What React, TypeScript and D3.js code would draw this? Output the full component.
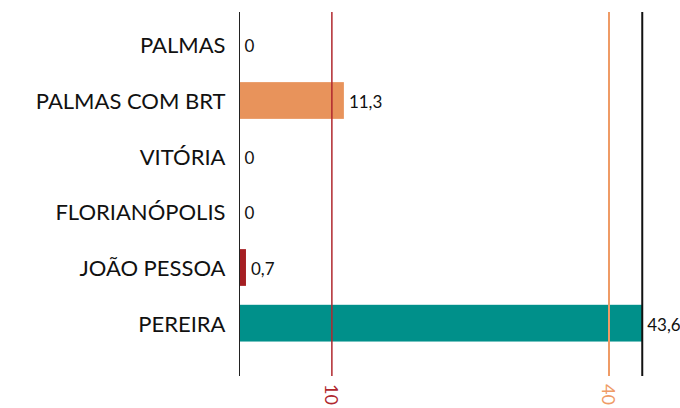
import React from "react";
import * as d3 from "d3";

const categories = ["PALMAS", "PALMAS COM BRT", "VITÓRIA", "FLORIANÓPOLIS", "JOÃO PESSOA", "PEREIRA"];
const values = [0, 11.3, 0, 0, 0.7, 43.6];
const barColors = ["#e8935b", "#e8935b", "#e8935b", "#e8935b", "#a51e22", "#00908a"];
const refValues = [10, 40];
const refColors = ["#b0272e", "#ef9b66"];
const refLabels = ["10", "40"];

const W = 680;
const H = 408;
const FONT = "Lato, 'Open Sans', sans-serif";

export default function App() {
  const x = d3.scaleLinear().domain([0, 40]).range([239.5, 609]);
  const y = d3
    .scaleBand<string>()
    .domain(categories)
    .range([17, 351])
    .paddingInner(0.34)
    .paddingOuter(0.17);
  const top = 12;
  const bottom = 376;
  const maxV = d3.max(values) as number;
  const fmt = (v: number) => String(v).replace(".", ",");

  return (
    <svg
      width={W}
      height={H}
      style={{ position: "absolute", left: 0, top: 0, background: "#fff" }}
      fontFamily={FONT}
    >
      {categories.map((c, i) => {
        const yc = (y(c) as number) + y.bandwidth() / 2;
        return (
          <g key={c}>
            <text
              x={x(0) - 14}
              y={yc}
              textAnchor="end"
              dominantBaseline="central"
              fontSize={22}
              fill="#111"
            >
              {c}
            </text>
            {values[i] > 0 && (
              <rect
                x={x(0)}
                y={y(c)}
                width={x(values[i]) - x(0)}
                height={y.bandwidth()}
                fill={barColors[i]}
              />
            )}
            <text
              x={x(values[i]) + 5}
              y={yc + 1}
              dominantBaseline="central"
              fontSize={17}
              fill="#111"
            >
              {fmt(values[i])}
            </text>
          </g>
        );
      })}
      {refValues.map((v, i) => (
        <g key={v}>
          <line x1={x(v)} x2={x(v)} y1={top} y2={bottom} stroke={refColors[i]} strokeWidth={i === 0 ? 1.5 : 2} />
          <text
            transform={`translate(${x(v)},${bottom + 8}) rotate(90)`}
            dominantBaseline="central"
            fontSize={18}
            fill={refColors[i]}
          >
            {refLabels[i]}
          </text>
        </g>
      ))}
      <line x1={x(0)} x2={x(0)} y1={top} y2={bottom} stroke="#222" strokeWidth={1} />
      <line x1={x(maxV)} x2={x(maxV)} y1={top} y2={bottom} stroke="#111" strokeWidth={2} />
    </svg>
  );
}
